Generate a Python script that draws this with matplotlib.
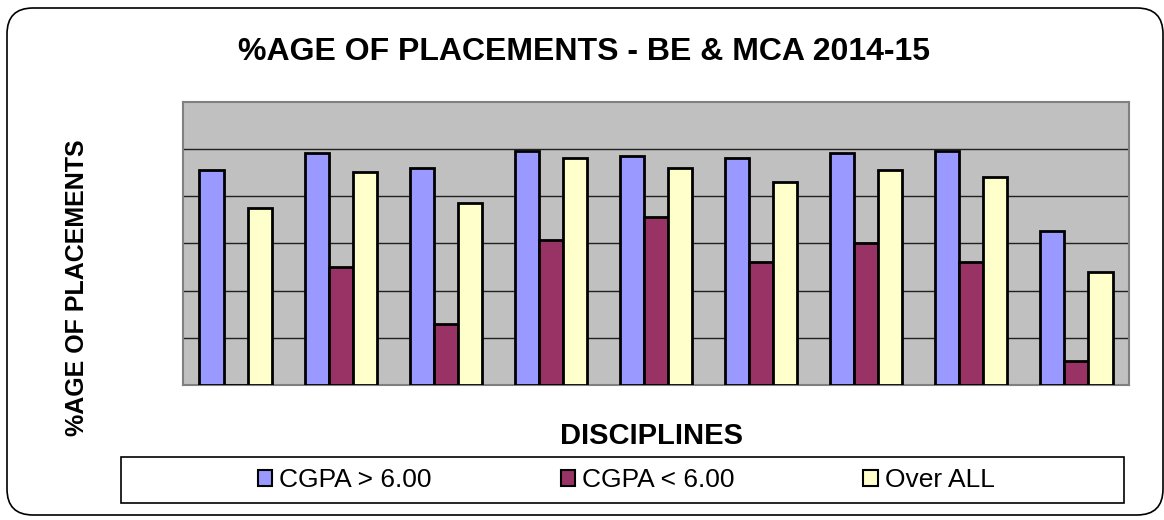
import numpy as np
import matplotlib
matplotlib.use("Agg")
import matplotlib.pyplot as plt
from matplotlib.patches import Patch, FancyBboxPatch, Rectangle

plt.rcParams['font.family'] = ['Liberation Sans', 'DejaVu Sans']

# data (no discipline names are printed on it)
disciplines = ['1', '2', '3', '4', '5', '6', '7', '8', '9']
cgpa_above_6 = [91, 98, 92, 99, 97, 96, 98, 99, 65]
cgpa_below_6 = [0, 50, 26, 61.5, 71, 52, 60, 52, 10]
over_all = [75, 90, 77, 96, 92, 86, 91, 88, 48]
series_names = ['CGPA > 6.00', 'CGPA < 6.00', 'Over ALL']
colors = ['#9999FF', '#993366', '#FFFFCC']

W, H = 1164, 520
fig = plt.figure(figsize=(W / 100, H / 100), dpi=100)

# rounded outer border
fig.patches.append(FancyBboxPatch((0.07, 0.05), 11.56, 5.07,
                                  boxstyle="round,pad=0,rounding_size=0.26",
                                  transform=fig.dpi_scale_trans,
                                  facecolor='white', edgecolor='black', lw=1.2, zorder=-10))

ax = fig.add_axes([183 / W, 1 - 385 / H, (1129 - 183) / W, (385 - 101.5) / H])
ax.set_facecolor('#C0C0C0')
ax.set_zorder(1)

x = np.arange(len(disciplines))
bw = 0.229
for i, vals in enumerate([cgpa_above_6, cgpa_below_6, over_all]):
    ax.bar(x + (i - 1) * bw, vals, width=bw, color=colors[i],
           edgecolor='black', linewidth=2.0, zorder=3)

ax.set_xlim(-0.5, len(disciplines) - 0.5)
ax.set_ylim(0, 120)
ax.set_yticks(np.arange(20, 120, 20))
ax.set_xticks([])
ax.tick_params(left=False, labelleft=False)
ax.yaxis.grid(True, color='#202020', lw=1.0, zorder=1)
ax.set_axisbelow(True)
for s in ax.spines.values():
    s.set_color('#808080')
    s.set_linewidth(1.5)

fig.text(584 / W, 1 - 60.5 / H, '%AGE OF PLACEMENTS - BE & MCA 2014-15',
         ha='center', va='baseline', fontsize=23, fontweight='bold')
fig.text(652 / W, 1 - 443.5 / H, 'DISCIPLINES',
         ha='center', va='baseline', fontsize=21, fontweight='bold')
fig.text(77 / W, 1 - 288 / H, '%AGE OF PLACEMENTS', rotation=90,
         ha='center', va='center', fontsize=18, fontweight='bold')

# legend frame + entries
fig.patches.append(Rectangle((121 / W, 1 - 503 / H), (1124 - 121) / W, 46 / H,
                             transform=fig.transFigure, facecolor='white',
                             edgecolor='black', lw=1.2, zorder=-5))
handles = [Patch(facecolor=c, edgecolor='black', lw=1.5) for c in colors]
fig.legend(handles, series_names, loc='center', bbox_to_anchor=(626 / W, 1 - 480 / H),
           ncol=3, frameon=False, fontsize=19, handlelength=0.55, handleheight=0.55,
           handletextpad=0.25, columnspacing=4.9, borderpad=0)

fig.savefig('out.png', dpi=100)
